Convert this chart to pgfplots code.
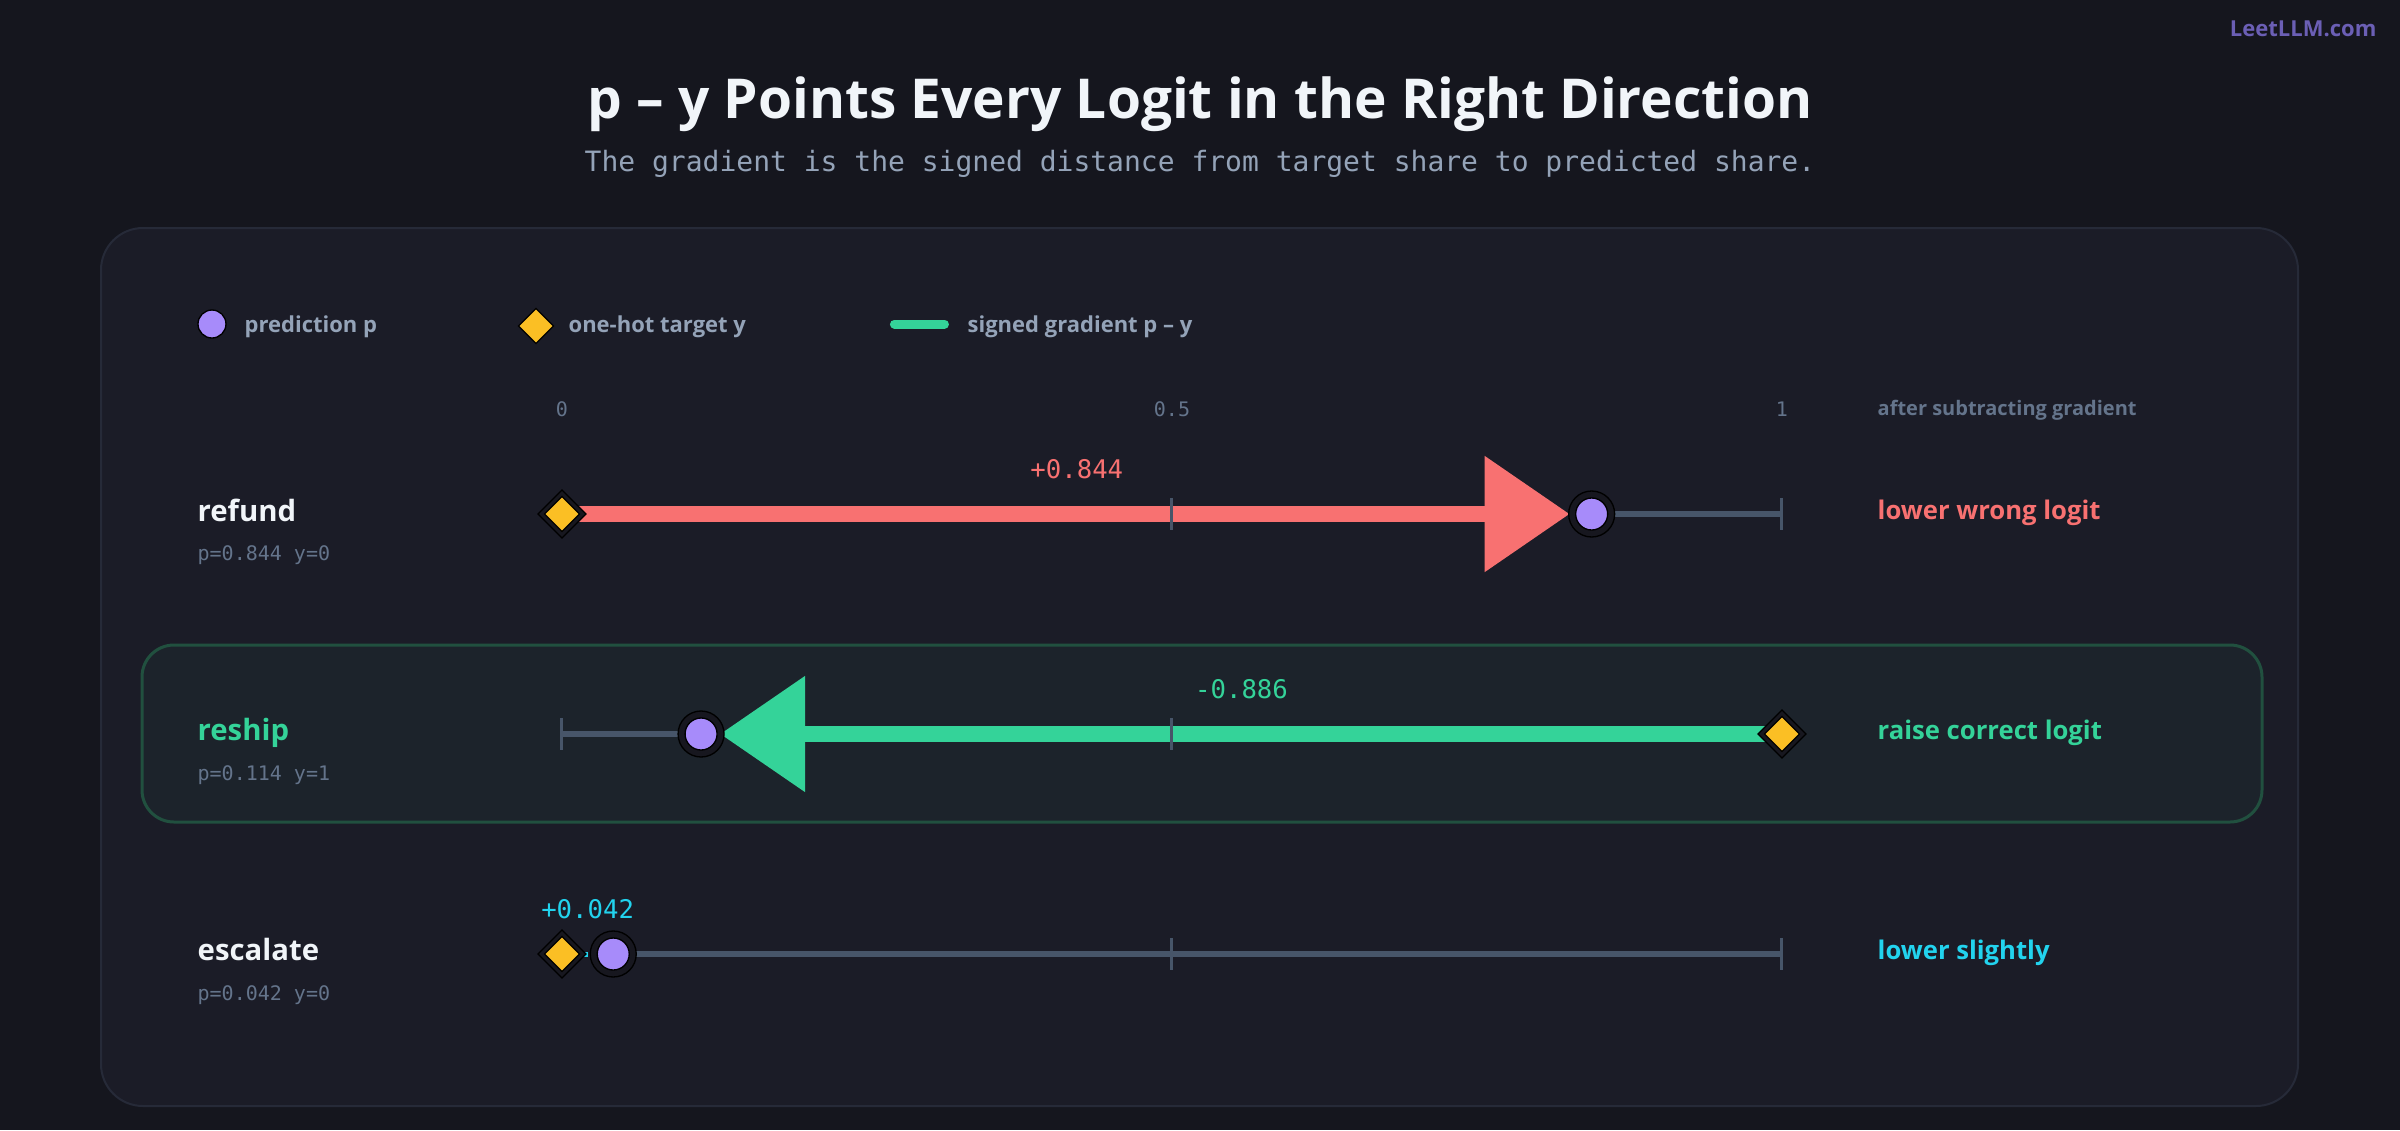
\documentclass[border=0pt]{standalone}
\usepackage{fontspec}
\setmainfont{Open Sans}
\setmonofont{DejaVu Sans Mono}
\usepackage{pgfplots}
\pgfplotsset{compat=1.18}
\usetikzlibrary{arrows.meta}
\definecolor{bgout}{HTML}{15161E}
\definecolor{panel}{HTML}{1B1C27}
\definecolor{panelborder}{HTML}{262A38}
\definecolor{hlfill}{HTML}{1C232B}
\definecolor{hlborder}{HTML}{21503F}
\definecolor{cred}{HTML}{F87171}
\definecolor{cgreen}{HTML}{34D399}
\definecolor{ccyan}{HTML}{22D3EE}
\definecolor{cpurple}{HTML}{A78BFA}
\definecolor{cyellow}{HTML}{FBBF24}
\definecolor{track}{HTML}{475569}
\definecolor{halo}{HTML}{17171F}
\definecolor{txtlight}{HTML}{94A3B8}
\definecolor{txtdim}{HTML}{64748B}
\definecolor{titlec}{HTML}{F1F5F9}
\definecolor{wm}{HTML}{6B5FB5}
\begin{document}
\begin{tikzpicture}
\begin{scope}[x=0.3pt,y=-0.3pt]
\fill[bgout] (0,0) rectangle (2400,1130);
\fill[panel, draw=panelborder, line width=0.6pt, rounded corners=12.6pt] (101,228) rectangle (2298,1106);
\fill[hlfill, draw=hlborder, line width=0.9pt, rounded corners=9.6pt] (142,645) rectangle (2262,822);
% title
\node[anchor=base, text=titlec, font=\fontsize{16.5}{20}\selectfont\bfseries, inner sep=0pt] at (1200,118) {p – y Points Every Logit in the Right Direction};
\node[anchor=base, text=txtlight, font=\fontsize{8.4}{10}\selectfont\ttfamily, inner sep=0pt] at (1200,171) {The gradient is the signed distance from target share to predicted share.};
\node[anchor=base east, text=wm, font=\fontsize{6.6}{8}\selectfont\bfseries, inner sep=0pt] at (2377,36) {LeetLLM.com};
% legend text
\node[anchor=base west, text=txtlight, font=\fontsize{6.6}{8}\selectfont\bfseries, inner sep=0pt] at (244,332) {prediction p};
\node[anchor=base west, text=txtlight, font=\fontsize{6.6}{8}\selectfont\bfseries, inner sep=0pt] at (568,332) {one-hot target y};
\node[anchor=base west, text=txtlight, font=\fontsize{6.6}{8}\selectfont\bfseries, inner sep=0pt] at (967,332) {signed gradient p – y};
\node[anchor=base west, text=txtdim, font=\fontsize{6}{7}\selectfont\bfseries, inner sep=0pt] at (1877,415) {after subtracting gradient};
% row names
\node[anchor=base west, text=titlec, font=\fontsize{8.8}{10}\selectfont\bfseries, inner sep=0pt] at (197,521) {refund};
\node[anchor=base west, text=txtdim, font=\fontsize{6}{7}\selectfont\ttfamily, inner sep=0pt] at (197,560) {p=0.844 y=0};
\node[anchor=base west, text=cgreen, font=\fontsize{8.8}{10}\selectfont\bfseries, inner sep=0pt] at (197,740) {reship};
\node[anchor=base west, text=txtdim, font=\fontsize{6}{7}\selectfont\ttfamily, inner sep=0pt] at (197,780) {p=0.114 y=1};
\node[anchor=base west, text=titlec, font=\fontsize{8.8}{10}\selectfont\bfseries, inner sep=0pt] at (197,960) {escalate};
\node[anchor=base west, text=txtdim, font=\fontsize{6}{7}\selectfont\ttfamily, inner sep=0pt] at (197,1000) {p=0.042 y=0};
% right labels
\node[anchor=base west, text=cred, font=\fontsize{7.7}{10}\selectfont\bfseries, inner sep=0pt] at (1877,519) {lower wrong logit};
\node[anchor=base west, text=cgreen, font=\fontsize{7.7}{10}\selectfont\bfseries, inner sep=0pt] at (1877,739) {raise correct logit};
\node[anchor=base west, text=ccyan, font=\fontsize{7.7}{10}\selectfont\bfseries, inner sep=0pt] at (1877,959) {lower slightly};
\end{scope}
\begin{axis}[
  at={(168.6pt,-339pt)}, anchor=south west,
  scale only axis, width=366pt, height=339pt,
  xmin=0, xmax=1, ymin=-1130, ymax=0,
  hide axis, clip=false,
]
% legend symbols
\addplot[only marks, mark=*, mark size=4.2pt, mark options={fill=cpurple, draw=none}] coordinates {(-0.2869,-324)};
\addplot[only marks, mark=square*, mark size=3.71pt, mark options={rotate=45, fill=cyellow, draw=none}] coordinates {(-0.0213,-326)};
\addplot[cgreen, line width=2.7pt, line cap=round] coordinates {(0.2725,-324) (0.3135,-324)};
% tracks
\addplot[track, line width=1.8pt] coordinates {(0.844,-514) (1,-514)};
\addplot[track, line width=1.8pt] coordinates {(0,-734) (0.114,-734)};
\addplot[track, line width=1.8pt] coordinates {(0.042,-954) (1,-954)};
% gradient shafts
\addplot[cred, line width=4.8pt, -{Triangle[length=25.5pt,width=33.6pt]}, shorten >=6.6pt] coordinates {(0,-514) (0.844,-514)};
\addplot[cgreen, line width=4.8pt, -{Triangle[length=25.5pt,width=33.6pt]}, shorten >=5.7pt] coordinates {(1,-734) (0.114,-734)};
\addplot[ccyan, line width=1.5pt, shorten <=6.6pt, shorten >=7.5pt] coordinates {(0,-954) (0.042,-954)};
% targets
\addplot[only marks, mark=square*, mark size=5.1pt, mark options={rotate=45, fill=halo, draw=none}] coordinates {(0,-514) (1,-734) (0,-954)};
\addplot[only marks, mark=square*, mark size=3.71pt, mark options={rotate=45, fill=cyellow, draw=none}] coordinates {(0,-514) (1,-734) (0,-954)};
% ticks
\addplot[track, line width=0.9pt, unbounded coords=jump] coordinates {
 (0,-498) (0,-530) (nan,nan) (0.5,-498) (0.5,-530) (nan,nan) (1,-498) (1,-530) (nan,nan)
 (0,-718) (0,-750) (nan,nan) (0.5,-718) (0.5,-750) (nan,nan) (1,-718) (1,-750) (nan,nan)
 (0,-938) (0,-970) (nan,nan) (0.5,-938) (0.5,-970) (nan,nan) (1,-938) (1,-970)};
% predictions
\addplot[only marks, mark=*, mark size=6.9pt, mark options={fill=halo, draw=none}] coordinates {(0.844,-514) (0.114,-734) (0.042,-954)};
\addplot[only marks, mark=*, mark size=4.8pt, mark options={fill=cpurple, draw=none}] coordinates {(0.844,-514) (0.114,-734) (0.042,-954)};
% value labels
\node[anchor=base, text=cred, font=\fontsize{7.7}{9}\selectfont\ttfamily, inner sep=0pt] at (axis cs:0.422,-478) {+0.844};
\node[anchor=base, text=cgreen, font=\fontsize{7.7}{9}\selectfont\ttfamily, inner sep=0pt] at (axis cs:0.557,-698) {-0.886};
\node[anchor=base, text=ccyan, font=\fontsize{7.7}{9}\selectfont\ttfamily, inner sep=0pt] at (axis cs:0.021,-918) {+0.042};
% scale labels
\node[anchor=base, text=txtdim, font=\fontsize{6}{7}\selectfont\ttfamily, inner sep=0pt] at (axis cs:0,-416) {0};
\node[anchor=base, text=txtdim, font=\fontsize{6}{7}\selectfont\ttfamily, inner sep=0pt] at (axis cs:0.5,-416) {0.5};
\node[anchor=base, text=txtdim, font=\fontsize{6}{7}\selectfont\ttfamily, inner sep=0pt] at (axis cs:1,-416) {1};
\end{axis}
\end{tikzpicture}
\end{document}
